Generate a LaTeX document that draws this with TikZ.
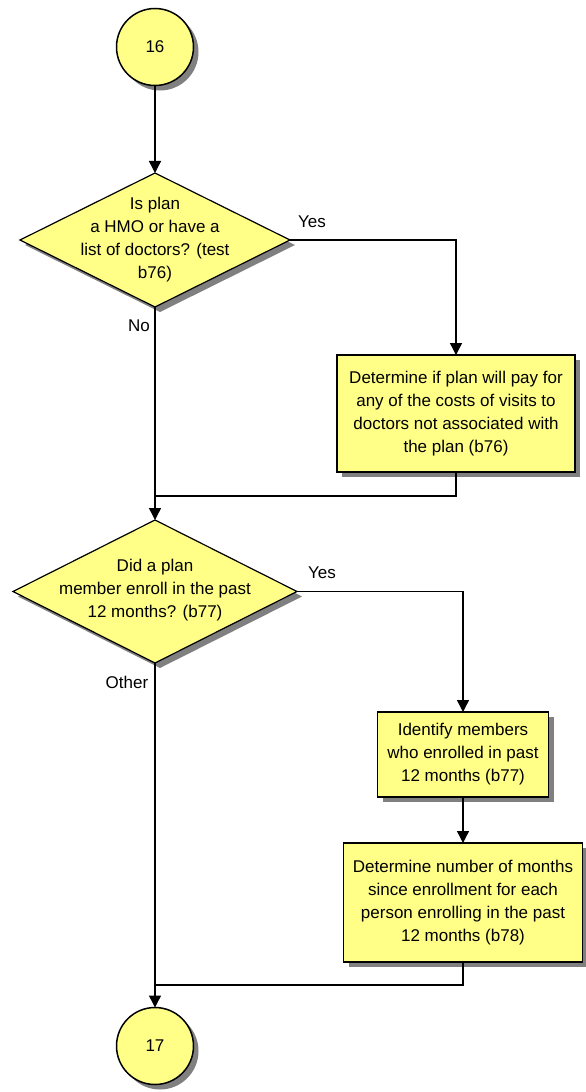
\documentclass[tikz,border=0pt]{standalone}
\usepackage{fontspec}
\setmainfont{Liberation Sans}
\usetikzlibrary{shapes.geometric,shadows,arrows.meta}

\definecolor{chartyellow}{HTML}{FFFF88}
\definecolor{chartshadow}{HTML}{808080}

\tikzset{
  shaded/.style={fill=chartyellow, draw=black, line width=1.5pt,
    drop shadow={shadow xshift=5pt, shadow yshift=-5pt, fill=chartshadow, opacity=1}},
  connector/.style={shaded, circle, minimum size=77pt, inner sep=0pt, outer sep=0pt},
  decision/.style={shaded, diamond, inner sep=0pt, outer sep=0pt, line width=1.2pt},
  process/.style={shaded, rectangle, align=center, inner sep=0pt, outer sep=0pt},
  flow/.style={line width=1.4pt, -{Triangle[length=12pt,width=12pt]}},
  link/.style={line width=1.4pt}
}

\begin{document}
\begin{tikzpicture}[x=1pt, y=-1pt, font=\fontsize{17}{23}\selectfont]
  \useasboundingbox (0,0) rectangle (586,1092);
  \node[connector] (c16) at (155,47) {16};
  \node[decision, minimum width=270pt, minimum height=134pt] (q1) at (155,240) {};
  \node[align=center] (q1text) at (155,240) {Is plan\\a HMO or have a\\list of doctors? (test\\b76)};
  \node[process, minimum width=238pt, minimum height=117pt] (b1) at (456,413.5)
    {Determine if plan will pay for\\any of the costs of visits to\\doctors not associated with\\the plan (b76)};
  \node[decision, minimum width=284pt, minimum height=143pt] (q2) at (155,591.5) {};
  \node[align=center] (q2text) at (155,590) {Did a plan\\member enroll in the past\\12 months? (b77)};
  \node[process, minimum width=171pt, minimum height=85pt] (b2) at (463,754.5)
    {Identify members\\who enrolled in past\\12 months (b77)};
  \node[process, minimum width=239pt, minimum height=119pt] (b3) at (463,902.5)
    {Determine number of months\\since enrollment for each\\person enrolling in the past\\12 months (b78)};
  \node[connector] (c17) at (155,1046) {17};
  \node (yes1) at (312,222) {Yes};
  \node (no1) at (139,326) {No};
  \node (yes2) at (322,573) {Yes};
  \node (other) at (127,682) {Other};
  \coordinate (m1) at (155,496);
  \coordinate (m2) at (155,985);

  \draw[flow] (c16) -- (q1);
  \draw[flow] (q1.east) -| (b1.north);
  \draw[link] (b1.south) |- (m1);
  \draw[flow] (q1.south) -- (q2.north);
  \draw[flow] (q2.east) -| (b2.north);
  \draw[flow] (b2.south) -- (b3.north);
  \draw[link] (b3.south) |- (m2);
  \draw[flow] (q2.south) -- (c17.north);
\end{tikzpicture}
\end{document}
